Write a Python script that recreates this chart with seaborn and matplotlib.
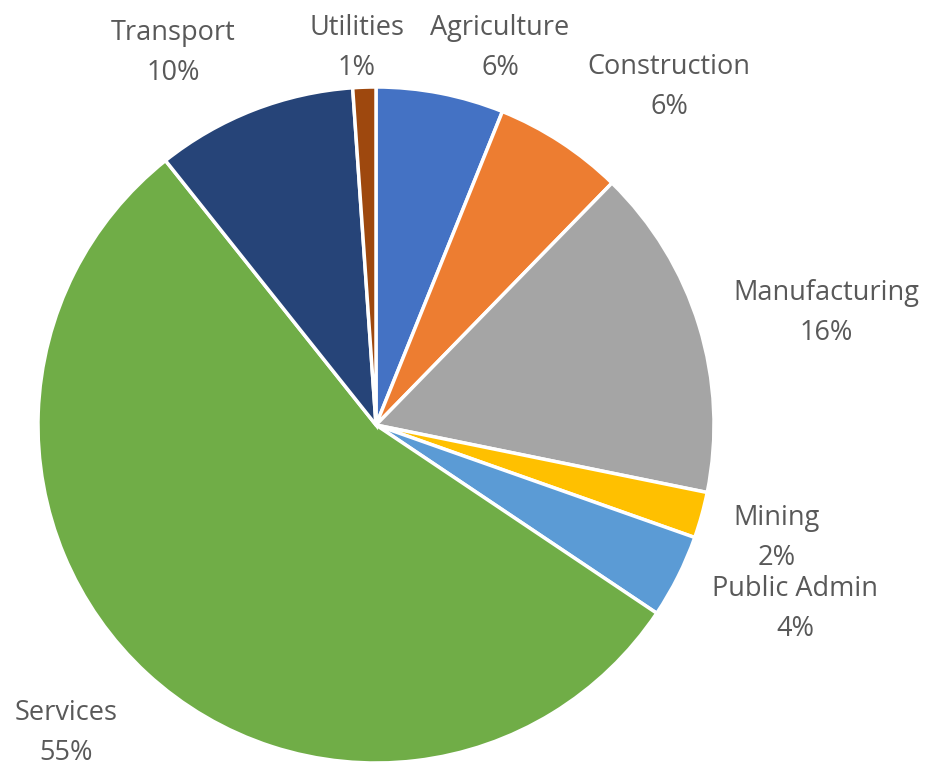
import matplotlib
matplotlib.use("Agg")
import matplotlib.pyplot as plt
import seaborn as sns
import numpy as np

sns.set_theme(style="white")
plt.rcParams['font.family'] = ['Open Sans', 'DejaVu Sans']

categories = ["Agriculture", "Construction", "Manufacturing", "Mining",
              "Public Admin", "Services", "Transport", "Utilities"]
values = [6.1, 6.2, 15.9, 2.2, 4.0, 54.9, 9.6, 1.1]
colors = ["#4472C4", "#ED7D31", "#A5A5A5", "#FFC000",
          "#5B9BD5", "#70AD47", "#264478", "#9E480E"]

# label placement (style): pixel centres in the 932x767 canvas
label_px = {
    "Agriculture": (500, 48), "Construction": (669, 87),
    "Manufacturing": (826, 313), "Mining": (777, 538),
    "Public Admin": (795, 609), "Services": (66, 733),
    "Transport": (173, 53), "Utilities": (357, 48),
}

W, H = 932, 767
cx, cy, R = 376, 425, 338

fig = plt.figure(figsize=(W / 100, H / 100), dpi=100)
ax = fig.add_axes([0, 0, 1, 1])
ax.axis("off")

total = sum(values)
wedges, _ = ax.pie(values, colors=colors, startangle=90, counterclock=False,
                   radius=1.0, center=(0, 0),
                   wedgeprops=dict(edgecolor="white", linewidth=2.5))
ax.set_aspect("equal")
ax.set_xlim(-cx / R, (W - cx) / R)
ax.set_ylim((cy - H) / R, cy / R)

for cat, v in zip(categories, values):
    px, py = label_px[cat]
    x = (px - cx) / R
    y = (cy - py) / R
    ax.text(x, y, f"{cat}\n{round(v / total * 100):.0f}%", ha="center", va="center",
            fontsize=19.5, color="#595959", linespacing=1.6)

fig.savefig("out.png", dpi=100)
